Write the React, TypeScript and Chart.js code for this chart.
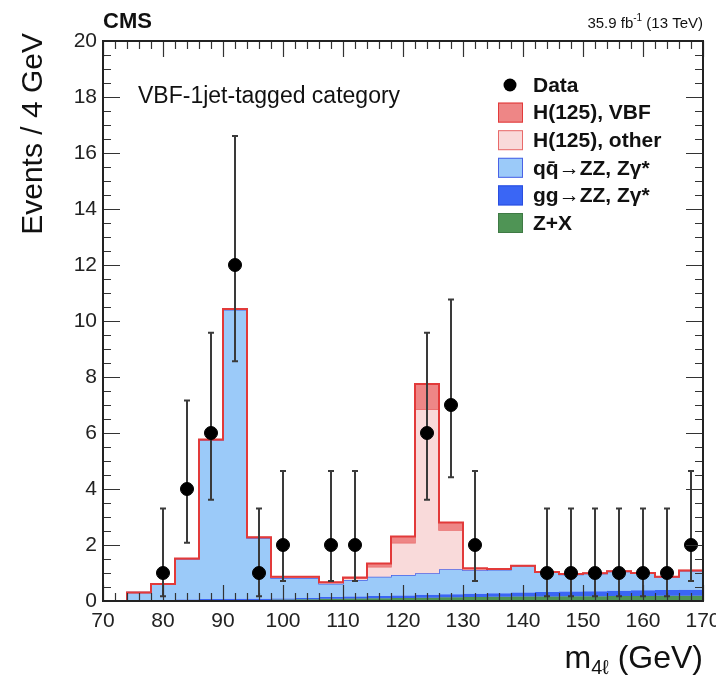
import { useEffect, useRef } from "react";
import { Chart, registerables } from "chart.js";
Chart.register(...registerables);

const FONT = "'Liberation Sans', Arial, Helvetica, sans-serif";

// Histogram bin edges (4 GeV bins)
const binEdges = [70, 74, 78, 82, 86, 90, 94, 98, 102, 106, 110, 114, 118, 122, 126, 130, 134, 138, 142, 146, 150, 154, 158, 162, 166, 170];

// Per-bin expected yields (stacked from bottom: Z+X, gg->ZZ, qq->ZZ, H other, H VBF)
const zPlusX = [0, 0.01, 0.01, 0.01, 0.02, 0.02, 0.03, 0.05, 0.06, 0.08, 0.09, 0.1, 0.11, 0.12, 0.13, 0.14, 0.15, 0.16, 0.16, 0.17, 0.17, 0.18, 0.18, 0.19, 0.19];
const ggZZ = [0, 0.02, 0.03, 0.04, 0.05, 0.06, 0.05, 0.04, 0.05, 0.06, 0.07, 0.08, 0.09, 0.1, 0.11, 0.12, 0.13, 0.14, 0.16, 0.17, 0.18, 0.19, 0.2, 0.2, 0.21];
const qqZZ = [0, 0.27, 0.56, 1.45, 5.68, 10.32, 2.17, 0.73, 0.71, 0.48, 0.59, 0.69, 0.73, 0.77, 0.89, 0.84, 0.84, 0.95, 0.71, 0.61, 0.63, 0.68, 0.61, 0.47, 0.68];
const higgsOther = [0, 0, 0.01, 0.01, 0.01, 0.02, 0.02, 0.04, 0.04, 0.04, 0.06, 0.35, 1.15, 5.86, 1.41, 0.05, 0.02, 0.01, 0.01, 0.01, 0.01, 0.01, 0.01, 0.01, 0.01];
const higgsVBF = [0, 0, 0, 0.01, 0.01, 0.01, 0.01, 0.01, 0.01, 0.01, 0.03, 0.12, 0.22, 0.9, 0.26, 0.02, 0, 0, 0, 0, 0, 0, 0, 0, 0];

// Observed data
const dataMass = [80, 84, 88, 92, 96, 100, 108, 112, 124, 128, 132, 144, 148, 152, 156, 160, 164, 168];
const dataCounts = [1, 4, 6, 12, 1, 2, 2, 2, 6, 7, 2, 1, 1, 1, 1, 1, 1, 2];
const dataLow = [0.17, 2.08, 3.62, 8.56, 0.17, 0.71, 0.71, 0.71, 3.62, 4.42, 0.71, 0.17, 0.17, 0.17, 0.17, 0.17, 0.17, 0.71];
const dataHigh = [3.3, 7.16, 9.58, 16.61, 3.3, 4.64, 4.64, 4.64, 9.58, 10.77, 4.64, 3.3, 3.3, 3.3, 3.3, 3.3, 3.3, 4.64];

const legendLabels = ["Data", "H(125), VBF", "H(125), other", "qq\u0304\u2192ZZ, Z\u03b3*", "gg\u2192ZZ, Z\u03b3*", "Z+X"];

const COLORS = {
  vbf: "#ee8686",
  vbfLine: "#e23a3a",
  other: "#f9dada",
  otherLine: "#e86a6a",
  qq: "#9bcaf9",
  qqLine: "#4a62e6",
  gg: "#3a66f5",
  ggLine: "#3a66f5",
  zx: "#4f9455",
  zxLine: "#4f9455",
};

const cumulative = (arrs: number[][]) => arrs[0].map((_, i) => arrs.reduce((s, a) => s + a[i], 0));
const stepPoints = (vals: number[]) => {
  const pts = vals.map((v, i) => ({ x: binEdges[i], y: v }));
  pts.push({ x: binEdges[vals.length], y: vals[vals.length - 1] });
  return pts;
};

const topZX = zPlusX;
const topGG = cumulative([zPlusX, ggZZ]);
const topQQ = cumulative([zPlusX, ggZZ, qqZZ]);
const topOther = cumulative([zPlusX, ggZZ, qqZZ, higgsOther]);
const topVBF = cumulative([zPlusX, ggZZ, qqZZ, higgsOther, higgsVBF]);

const decorPlugin = {
  id: "decor",
  beforeDatasetDraw(chart: any, args: any) {
    if (args.index !== 0) return;
    const { ctx } = chart;
    const xs = chart.scales.x;
    const ys = chart.scales.y;
    ctx.save();
    ctx.strokeStyle = "#3a3a3a";
    ctx.lineWidth = 2;
    dataMass.forEach((m, i) => {
      const px = xs.getPixelForValue(m);
      const y1 = ys.getPixelForValue(dataLow[i]);
      const y2 = ys.getPixelForValue(dataHigh[i]);
      ctx.beginPath();
      ctx.moveTo(px, y1);
      ctx.lineTo(px, y2);
      ctx.moveTo(px - 3, y1);
      ctx.lineTo(px + 3, y1);
      ctx.moveTo(px - 3, y2);
      ctx.lineTo(px + 3, y2);
      ctx.stroke();
    });
    ctx.restore();
  },
  afterDatasetsDraw(chart: any) {
    const { ctx, chartArea: a } = chart;
    const xs = chart.scales.x;
    const ys = chart.scales.y;
    ctx.save();
    ctx.strokeStyle = "#333";
    ctx.lineWidth = 1.2;
    ctx.beginPath();
    for (let v = 70; v <= 170; v += 2) {
      const px = Math.round(xs.getPixelForValue(v)) + 0.5;
      const len = v % 10 === 0 ? 16 : 8;
      ctx.moveTo(px, a.bottom);
      ctx.lineTo(px, a.bottom - len);
      ctx.moveTo(px, a.top);
      ctx.lineTo(px, a.top + len);
    }
    for (let v = 0; v <= 20; v += 0.5) {
      const py = Math.round(ys.getPixelForValue(v)) + 0.5;
      const len = v % 2 === 0 ? 17 : 8;
      ctx.moveTo(a.left, py);
      ctx.lineTo(a.left + len, py);
      ctx.moveTo(a.right, py);
      ctx.lineTo(a.right - len, py);
    }
    ctx.stroke();
    ctx.lineWidth = 2;
    ctx.strokeStyle = "#222";
    ctx.strokeRect(a.left, a.top, a.right - a.left, a.bottom - a.top);
    ctx.restore();
  },
  afterDraw(chart: any) {
    const { ctx, chartArea: a } = chart;
    ctx.save();
    ctx.fillStyle = "#111";
    // CMS label
    ctx.font = `bold 22px ${FONT}`;
    ctx.textBaseline = "alphabetic";
    ctx.textAlign = "left";
    ctx.fillText("CMS", a.left, 28);
    // Luminosity
    ctx.font = `15px ${FONT}`;
    ctx.textAlign = "right";
    const tail = " (13 TeV)";
    const wTail = ctx.measureText(tail).width;
    ctx.fillText(tail, a.right, 28);
    ctx.font = `10px ${FONT}`;
    const sup = "-1";
    const wSup = ctx.measureText(sup).width;
    ctx.fillText(sup, a.right - wTail, 21);
    ctx.font = `15px ${FONT}`;
    ctx.fillText("35.9 fb", a.right - wTail - wSup, 28);
    // Category
    ctx.textAlign = "left";
    ctx.textBaseline = "middle";
    ctx.font = `23px ${FONT}`;
    ctx.fillText("VBF-1jet-tagged category", 138, 97);
    // Y title
    ctx.save();
    ctx.translate(34, 33);
    ctx.rotate(-Math.PI / 2);
    ctx.textAlign = "right";
    ctx.textBaseline = "middle";
    ctx.font = `30px ${FONT}`;
    ctx.fillText("Events / 4 GeV", 0, 0);
    ctx.restore();
    // X title
    ctx.textBaseline = "alphabetic";
    ctx.textAlign = "right";
    ctx.font = `32px ${FONT}`;
    const unit = " (GeV)";
    const wUnit = ctx.measureText(unit).width;
    ctx.fillText(unit, a.right, 668);
    ctx.font = `20px ${FONT}`;
    const sub = "4\u2113";
    const wSub = ctx.measureText(sub).width;
    ctx.fillText(sub, a.right - wUnit, 674);
    ctx.font = `32px ${FONT}`;
    ctx.fillText("m", a.right - wUnit - wSub, 668);
    // Legend
    const rowY0 = 85;
    const rowStep = 27.6;
    const boxColors = [null, [COLORS.vbf, COLORS.vbfLine], [COLORS.other, COLORS.otherLine], [COLORS.qq, COLORS.qqLine], [COLORS.gg, "#2a4ee0"], [COLORS.zx, "#3f7a45"]];
    legendLabels.forEach((lab, i) => {
      const cy = rowY0 + i * rowStep;
      const bc = boxColors[i];
      if (!bc) {
        ctx.beginPath();
        ctx.fillStyle = "#000";
        ctx.arc(510, cy, 6.5, 0, Math.PI * 2);
        ctx.fill();
      } else {
        ctx.fillStyle = bc[0] as string;
        ctx.fillRect(498, cy - 10, 25, 20);
        ctx.strokeStyle = bc[1] as string;
        ctx.lineWidth = 1;
        ctx.strokeRect(498.5, cy - 9.5, 24, 19);
      }
      ctx.fillStyle = "#111";
      ctx.font = `bold 21px ${FONT}`;
      ctx.textAlign = "left";
      ctx.textBaseline = "middle";
      ctx.fillText(lab, 533, cy + 1);
    });
    ctx.restore();
  },
};

export default function App() {
  const ref = useRef<HTMLCanvasElement | null>(null);
  useEffect(() => {
    if (!ref.current) return;
    const common = { pointRadius: 0, stepped: true, borderWidth: 1.5 } as any;
    const chart = new Chart(ref.current, {
      type: "line",
      data: {
        datasets: [
          {
            label: legendLabels[0],
            type: "scatter",
            data: dataMass.map((m, i) => ({ x: m, y: dataCounts[i] })),
            pointRadius: 6.5,
            pointBackgroundColor: "#000",
            pointBorderColor: "#000",
            showLine: false,
            order: 0,
          } as any,
          { ...common, label: legendLabels[1], data: stepPoints(topVBF), fill: "+1", backgroundColor: COLORS.vbf, borderColor: COLORS.vbfLine, borderWidth: 2, order: 1 },
          { ...common, label: legendLabels[2], data: stepPoints(topOther), fill: "+1", backgroundColor: COLORS.other, borderColor: COLORS.otherLine, order: 2 },
          { ...common, label: legendLabels[3], data: stepPoints(topQQ), fill: "+1", backgroundColor: COLORS.qq, borderColor: COLORS.qqLine, order: 3 },
          { ...common, label: legendLabels[4], data: stepPoints(topGG), fill: "+1", backgroundColor: COLORS.gg, borderColor: COLORS.ggLine, borderWidth: 0.5, order: 4 },
          { ...common, label: legendLabels[5], data: stepPoints(topZX), fill: "origin", backgroundColor: COLORS.zx, borderColor: COLORS.zxLine, borderWidth: 0.5, order: 5 },
        ],
      },
      options: {
        responsive: true,
        maintainAspectRatio: false,
        animation: false,
        layout: { padding: { left: 0, right: 13, top: 41, bottom: 0 } },
        scales: {
          x: {
            type: "linear",
            min: 70,
            max: 170,
            ticks: { stepSize: 10, color: "#222", font: { size: 21, family: FONT }, padding: 8, maxRotation: 0, autoSkip: false },
            grid: { display: false, drawTicks: false },
            border: { display: false },
            afterFit: (s: any) => {
              s.height = 76;
              s.paddingLeft = 0;
              s.paddingRight = 0;
            },
          },
          y: {
            type: "linear",
            min: 0,
            max: 20,
            ticks: { stepSize: 2, color: "#222", font: { size: 21, family: FONT }, padding: 6 },
            grid: { display: false, drawTicks: false },
            border: { display: false },
            afterFit: (s: any) => {
              s.width = 103;
              s.paddingTop = 0;
              s.paddingBottom = 0;
            },
          },
        },
        plugins: { legend: { display: false }, tooltip: { enabled: false } },
      },
      plugins: [decorPlugin],
    });
    return () => chart.destroy();
  }, []);
  return (
    <div style={{ position: "fixed", left: 0, top: 0, width: 716, height: 677, background: "#fff" }}>
      <canvas ref={ref} />
    </div>
  );
}
